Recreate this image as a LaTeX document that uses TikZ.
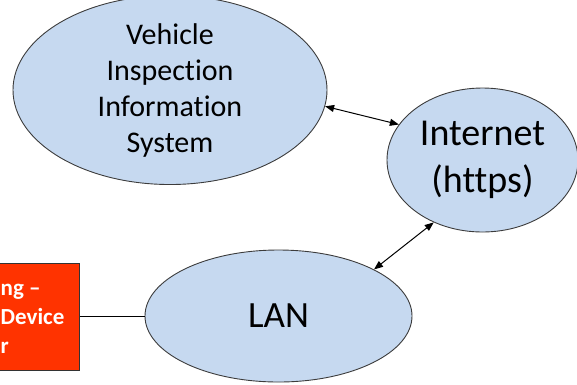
\documentclass[tikz,border=0pt]{standalone}
\usepackage{fontspec}
\setmainfont{Carlito}[Ligatures=CommonOff]
\usetikzlibrary{arrows.meta,shapes.geometric}

\definecolor{cloudfill}{RGB}{198,217,240}
\definecolor{cloudline}{RGB}{60,60,60}
\definecolor{devred}{RGB}{255,51,0}

\begin{document}
\begin{tikzpicture}[
  x=1pt,y=-1pt,
  >={Triangle[length=9pt,width=7pt]},
  cloud/.style={ellipse,draw=cloudline,fill=cloudfill,line width=0.9pt,inner sep=0pt,align=center},
  dev/.style={draw=black!80,fill=devred,line width=1pt,inner sep=0pt,anchor=north east},
  link/.style={line width=1pt,<->}
]
\useasboundingbox (0,0) rectangle (577,384);

% ellipses
\node[cloud,minimum width=314pt,minimum height=167pt,
      font=\fontsize{30}{36}\selectfont] (viis) at (170,90)
  {Vehicle\\Inspection\\Information\\System};
\node[cloud,minimum width=191pt,minimum height=144pt,
      font=\fontsize{38}{47}\selectfont] (inet) at (482.5,160)
  {Internet\\(https)};
\node[cloud,minimum width=267pt,minimum height=132pt,
      font=\fontsize{37}{44}\selectfont] (lan) at (278.5,316) {LAN};

% device box (cut at the left edge)
\node[dev,minimum width=90pt,minimum height=107pt] (dev) at (80,263) {};
\node[anchor=west,align=left,text=white,inner sep=0pt,
      font=\fontsize{23}{29}\bfseries\selectfont] (devtxt) at (0.5,319)
  {ng --\\ Device\\r};

% connectors
\draw[link] (viis.-6) -- (inet.157);
\draw[link] (inet.232) -- (lan.26);
\draw[line width=1pt] (dev.east |- lan.west) -- (lan.west);
\end{tikzpicture}
\end{document}
